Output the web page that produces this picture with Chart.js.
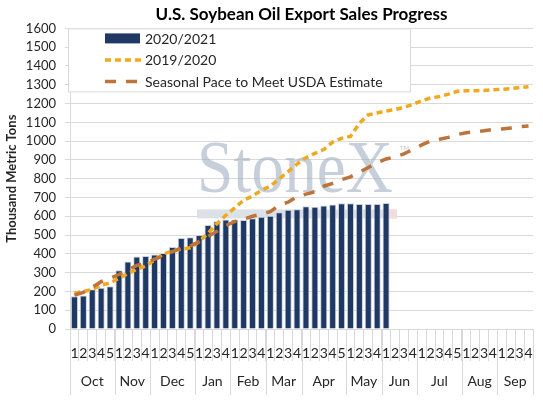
<!DOCTYPE html>
<html>
<head>
<meta charset="utf-8">
<script src="https://cdn.jsdelivr.net/npm/chart.js@4.4.0/dist/chart.umd.min.js"></script>
<style>
  html, body { margin: 0; padding: 0; background: #fff; }
</style>
</head>
<body>
<canvas id="myChart" width="543" height="401"></canvas>
<script>
// marketing years run Oct..Sep, one point per week
const months = ['Oct', 'Nov', 'Dec', 'Jan', 'Feb', 'Mar', 'Apr', 'May', 'Jun', 'Jul', 'Aug', 'Sep'];
const weeksPerMonth = [5, 4, 5, 4, 4, 4, 5, 4, 4, 5, 4, 4];

// 2020/2021 accumulated sales (thousand metric tons), reported weeks only
const sales2021 = [174, 178, 212, 220, 228, 313, 359, 386, 388, 396,
                   404, 436, 485, 489, 500, 553, 573, 583, 583, 580,
                   590, 597, 603, 622, 635, 638, 654, 651, 658, 663,
                   669, 669, 665, 666, 666, 670];

// 2019/2020 accumulated sales
const sales2020 = [190, 200, 210, 233, 245, 270, 295, 318, 335, 368,
                   400, 415, 425, 432, 465, 510, 560, 605, 645, 685,
                   708, 738, 760, 800, 838, 878, 912, 935, 955, 995,
                   1015, 1025, 1095, 1140, 1150, 1160, 1168, 1180, 1195, 1215,
                   1230, 1237, 1250, 1265, 1268, 1268, 1270, 1274, 1276, 1280,
                   1285, 1290];

// seasonal pace needed to meet the USDA estimate
const seasonalPace = [180, 195, 222, 252, 270, 290, 315, 338, 352, 372,
                      388, 412, 432, 442, 465, 492, 520, 550, 572, 585,
                      600, 612, 625, 660, 675, 705, 718, 730, 760, 775,
                      795, 810, 835, 860, 885, 905, 915, 932, 955, 980,
                      1000, 1010, 1020, 1035, 1045, 1050, 1055, 1062, 1065, 1070,
                      1078, 1080];

let weekLabels = [];
weeksPerMonth.forEach(function(n){
    for (let k = 1; k <= n; k++) weekLabels.push(String(k));
});

const FONT = 'Lato, "Open Sans", sans-serif';
const TEXT = '#262626';
const GRID = '#d9d9d9';

// light StoneX logo behind the bars
const watermark = {
    id: 'watermark',
    beforeDatasetsDraw(chart) {
        const ctx = chart.ctx;
        const a = chart.chartArea;
        const left = a.left + 127;
        const base = a.top + 164;
        ctx.save();
        ctx.fillStyle = 'rgba(165,177,196,0.62)';
        ctx.font = '74px "Liberation Serif", serif';
        ctx.textBaseline = 'alphabetic';
        const w = ctx.measureText('StoneX').width;
        ctx.translate(left, base);
        ctx.scale(196 / w, 1);
        ctx.fillText('StoneX', 0, 0);
        ctx.restore();

        ctx.save();
        ctx.fillStyle = 'rgba(170,181,198,0.8)';
        ctx.font = '6px ' + FONT;
        ctx.fillText('TM', left + 203, base - 42);
        ctx.fillStyle = '#dce1e8';
        ctx.fillRect(left, base + 17, 200, 9);
        ctx.fillStyle = '#f3dcdc';
        ctx.fillRect(left + 190, base + 17, 10, 9);
        ctx.restore();
    }
};

// excel style legend box sitting in the top left of the plot
const boxLegend = {
    id: 'boxLegend',
    afterDatasetsDraw(chart) {
        const ctx = chart.ctx;
        const a = chart.chartArea;
        const bx = a.left - 2, by = a.top;
        ctx.save();
        ctx.fillStyle = '#fff';
        ctx.fillRect(bx, by, 343, 64);
        ctx.strokeStyle = GRID;
        ctx.lineWidth = 1;
        ctx.strokeRect(bx + 0.5, by + 0.5, 342, 63);

        ctx.font = '14px ' + FONT;
        ctx.textBaseline = 'middle';
        chart.data.datasets.forEach(function(ds, i){
            const y = by + 10 + i * 21.5;
            const x0 = bx + 37;
            if (ds.type === 'bar') {
                ctx.fillStyle = ds.backgroundColor;
                ctx.fillRect(x0, y - 5, 35, 10);
            } else {
                ctx.strokeStyle = ds.borderColor;
                ctx.lineWidth = ds.borderWidth;
                ctx.setLineDash(ds.borderDash);
                ctx.beginPath();
                ctx.moveTo(x0, y);
                ctx.lineTo(x0 + 36, y);
                ctx.stroke();
                ctx.setLineDash([]);
            }
            ctx.fillStyle = TEXT;
            ctx.fillText(ds.label, x0 + 40, y + 1);
        });
        ctx.restore();
    }
};

// second row of the category axis: month names and long separators
const monthAxis = {
    id: 'monthAxis',
    afterDraw(chart) {
        const ctx = chart.ctx;
        const xs = chart.scales.x;
        const w = xs.width / weekLabels.length;
        ctx.save();
        ctx.strokeStyle = GRID;
        ctx.lineWidth = 1;
        ctx.fillStyle = TEXT;
        ctx.font = '14px ' + FONT;
        ctx.textAlign = 'center';
        ctx.textBaseline = 'middle';
        let start = 0;
        for (let m = 0; m <= months.length; m++) {
            const px = Math.round(xs.left + start * w) + 0.5;
            ctx.beginPath();
            ctx.moveTo(px, xs.top);
            ctx.lineTo(px, xs.top + 66);
            ctx.stroke();
            if (m < months.length) {
                const mid = xs.left + (start + weeksPerMonth[m] / 2) * w;
                ctx.fillText(months[m], mid, xs.top + 52);
                start += weeksPerMonth[m];
            }
        }
        ctx.restore();
    }
};

let myChart = document.getElementById('myChart');
let graficar = new Chart(myChart, {
    data: {
        labels: weekLabels,
        datasets: [
            {
                type: 'bar',
                label: '2020/2021',
                data: sales2021,
                backgroundColor: '#1f3864',
                borderColor: '#c9d0db',
                borderWidth: 1,
                barPercentage: 0.8,
                categoryPercentage: 1,
                order: 3
            },
            {
                type: 'line',
                label: '2019/2020',
                data: sales2020,
                borderColor: '#f0a91e',
                borderWidth: 3.5,
                borderDash: [6, 4],
                pointRadius: 0,
                tension: 0,
                fill: false,
                order: 2
            },
            {
                type: 'line',
                label: 'Seasonal Pace to Meet USDA Estimate',
                data: seasonalPace,
                borderColor: '#bd7339',
                borderWidth: 3.5,
                borderDash: [11, 10],
                pointRadius: 0,
                tension: 0,
                fill: false,
                order: 1
            }
        ]
    },
    options: {
        responsive: false,
        animation: false,
        layout: { padding: { left: 0, right: 10, top: 0, bottom: 0 } },
        plugins: {
            legend: { display: false },
            tooltip: { enabled: false },
            title: {
                display: true,
                fullSize: false,
                text: 'U.S. Soybean Oil Export Sales Progress',
                color: '#000',
                font: { family: FONT, size: 17, weight: 'bold' },
                padding: { top: 4, bottom: 4 }
            }
        },
        scales: {
            x: {
                offset: true,
                grid: {
                    drawOnChartArea: false,
                    color: GRID,
                    tickLength: 32
                },
                border: { color: GRID },
                ticks: {
                    autoSkip: false,
                    maxRotation: 0,
                    padding: -16,
                    color: TEXT,
                    font: { family: FONT, size: 14 }
                },
                afterFit(scale) { scale.height = 72; }
            },
            y: {
                min: 0,
                max: 1600,
                grid: { color: GRID, tickLength: 5 },
                border: { color: GRID },
                ticks: {
                    stepSize: 100,
                    padding: 9,
                    color: TEXT,
                    font: { family: FONT, size: 13 },
                    callback: function(v){ return String(v); }
                },
                title: {
                    display: true,
                    text: 'Thousand Metric Tons',
                    color: TEXT,
                    font: { family: FONT, size: 13, weight: 'bold' },
                    padding: { top: 4, bottom: 0 }
                },
                afterFit(scale) { scale.width = 70; }
            }
        }
    },
    plugins: [watermark, boxLegend, monthAxis]
});
</script>
</body>
</html>
